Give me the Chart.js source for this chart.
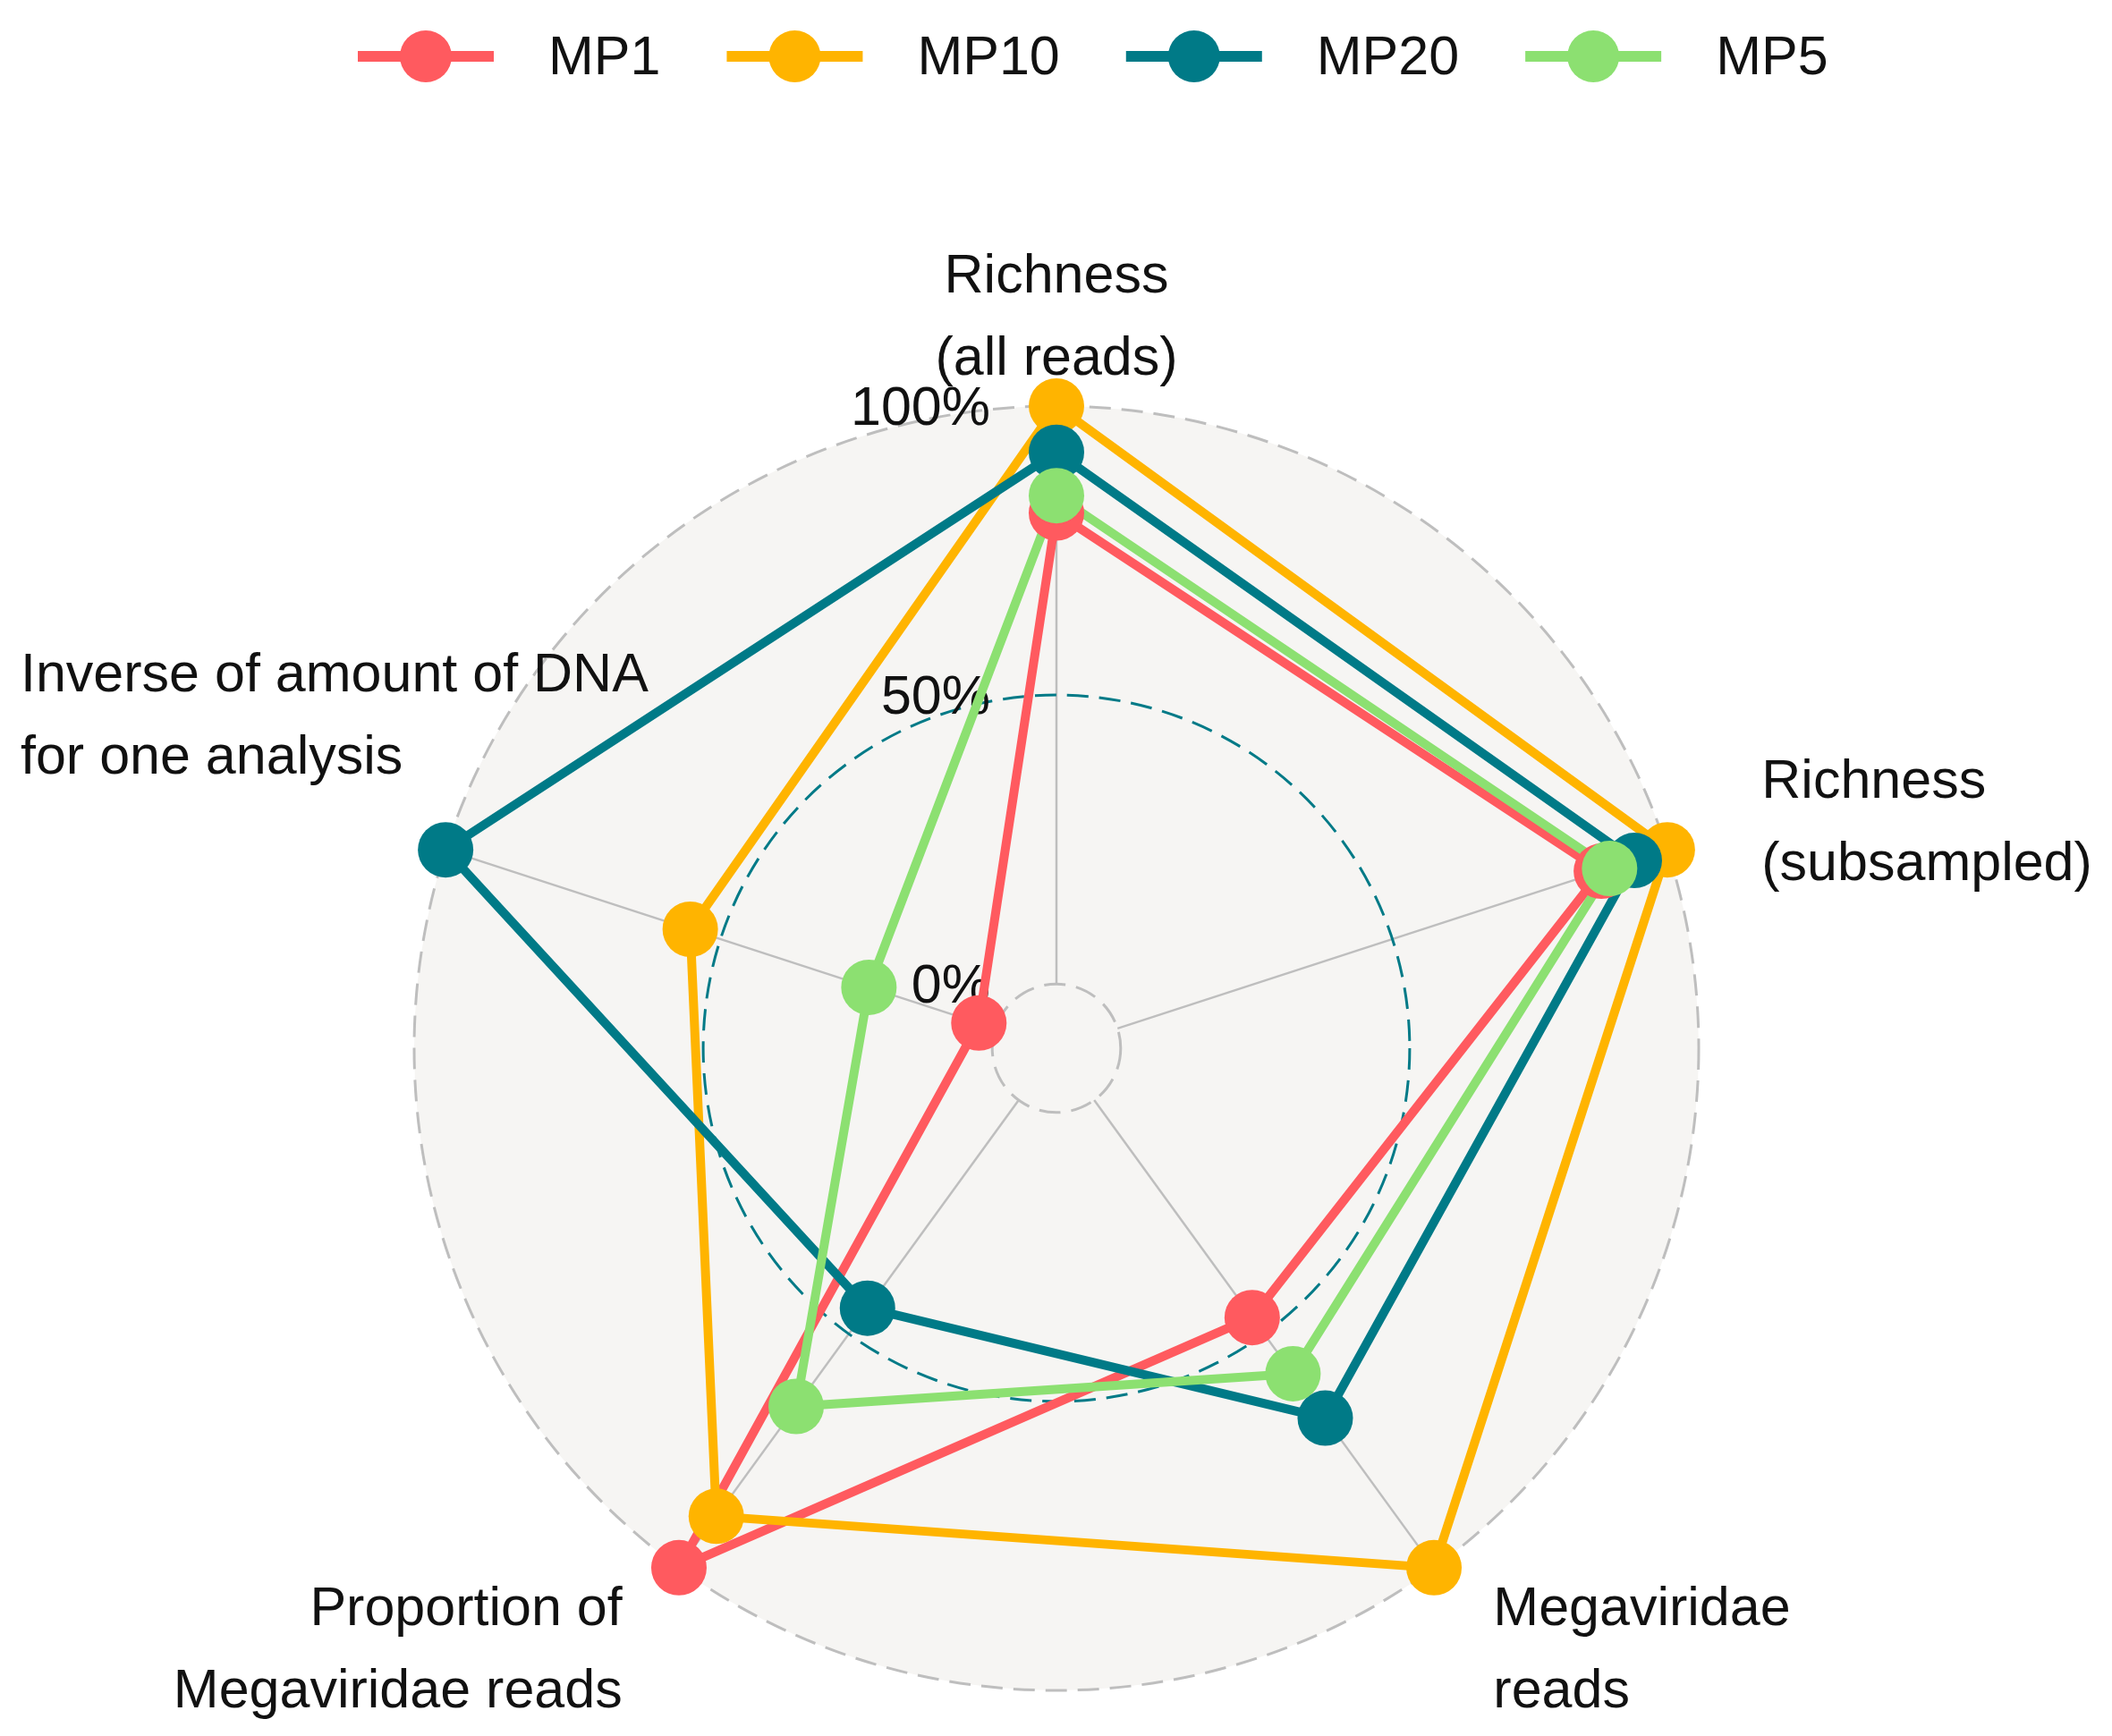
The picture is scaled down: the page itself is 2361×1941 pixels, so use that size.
<!DOCTYPE html>
<html>
<head>
<meta charset="utf-8">
<script src="https://cdn.jsdelivr.net/npm/chart.js@4/dist/chart.umd.min.js"></script>
<style>
  html, body { margin: 0; padding: 0; background: #ffffff; }
  #wrap { width: 2361px; height: 1941px; position: relative; }
  canvas { display: block; }
</style>
</head>
<body>
<div id="wrap"><canvas id="c" width="2361" height="1941"></canvas></div>
<script>
// ---- data ----
const categories = [
  ["Richness", "(all reads)"],
  ["Richness", "(subsampled)"],
  ["Megaviridae", "reads"],
  ["Proportion of", "Megaviridae reads"],
  ["Inverse of amount of DNA", "for one analysis"]
];
const seriesNames = ["MP1", "MP10", "MP20", "MP5"];
const mp1  = [81.5, 88,   46.5, 100,  3];
const mp10 = [100,  100,  100,  89,   55.5];
const mp20 = [92,   94,   68,   44.5, 100];
const mp5  = [84.5, 89.5, 58.5, 65.5, 23];
const tickValues = [0, 50, 100];
const tickLabels = ["0%", "50%", "100%"];

const seriesValues = [mp1, mp10, mp20, mp5];
const seriesColors = ["#FF5A5F", "#FFB400", "#007A87", "#8CE071"];
const FONT = '"Liberation Sans", Arial, sans-serif';
const FONT_SIZE = 61;

// ---- datasets: lines first (underneath), points on top ----
const datasets = [];
seriesNames.forEach((name, i) => {
  datasets.push({
    label: name,
    data: seriesValues[i],
    borderColor: seriesColors[i],
    backgroundColor: 'rgba(0,0,0,0)',
    borderWidth: 10,
    borderJoinStyle: 'round',
    pointRadius: 0,
    pointHoverRadius: 0,
    fill: false,
    order: 13 - i
  });
});
seriesNames.forEach((name, i) => {
  datasets.push({
    label: name,
    data: seriesValues[i],
    showLine: false,
    borderColor: 'rgba(0,0,0,0)',
    backgroundColor: 'rgba(0,0,0,0)',
    borderWidth: 0,
    pointRadius: 31,
    pointHoverRadius: 31,
    pointBackgroundColor: seriesColors[i],
    pointBorderWidth: 0,
    fill: false,
    order: 3 - i
  });
});

// ---- decoration plugin: background circle, grid, spokes, labels ----
const radarDecor = {
  id: 'radarDecor',
  beforeDatasetsDraw(chart) {
    const s = chart.scales.r;
    const ctx = chart.ctx;
    const cx = s.xCenter, cy = s.yCenter;
    const rMin = s.getDistanceFromCenterForValue(tickValues[0]);
    const rMid = s.getDistanceFromCenterForValue(tickValues[1]);
    const rMax = s.getDistanceFromCenterForValue(tickValues[2]);
    const n = categories.length;
    ctx.save();
    // background circle
    ctx.fillStyle = '#F6F5F3';
    ctx.beginPath();
    ctx.arc(cx, cy, rMax, 0, Math.PI * 2);
    ctx.fill();
    // spokes
    ctx.strokeStyle = '#BEBEBE';
    ctx.lineWidth = 2.5;
    ctx.setLineDash([]);
    for (let i = 0; i < n; i++) {
      const p0 = s.getPointPosition(i, rMin);
      const p1 = s.getPointPosition(i, rMax);
      ctx.beginPath();
      ctx.moveTo(p0.x, p0.y);
      ctx.lineTo(p1.x, p1.y);
      ctx.stroke();
    }
    // grid circles
    const circ = (r, col) => {
      ctx.strokeStyle = col;
      ctx.lineWidth = 3;
      ctx.setLineDash([24, 12]);
      ctx.beginPath();
      ctx.arc(cx, cy, r, 0, Math.PI * 2);
      ctx.stroke();
    };
    circ(rMin, '#BEBEBE');
    circ(rMid, '#007A87');
    circ(rMax, '#BEBEBE');
    ctx.setLineDash([]);

    // tick labels
    ctx.fillStyle = '#111111';
    ctx.font = FONT_SIZE + 'px ' + FONT;
    ctx.textAlign = 'right';
    ctx.textBaseline = 'middle';
    tickValues.forEach((v, k) => {
      const r = s.getDistanceFromCenterForValue(v);
      ctx.fillText(tickLabels[k], cx - 74, cy - r + 4);
    });

    // axis labels
    const rLab = s.getDistanceFromCenterForValue(116.67);
    const lineH = 92;
    for (let i = 0; i < n; i++) {
      const p = s.getPointPosition(i, rLab);
      let x = p.x, y = p.y, align;
      const dx = p.x - cx;
      if (Math.abs(dx) < 5) { align = 'center'; y += 6; }
      else if (dx > 0) { align = 'left'; x += 3; }
      else align = 'right';
      if (i === 4) { align = 'left'; x = 23; y = p.y - 119; }
      if (i >= 2 && i <= 3) { y += 2; }
      const lines = categories[i];
      ctx.textAlign = align;
      lines.forEach((t, j) => {
        ctx.fillText(t, x, y + (j - (lines.length - 1) / 2) * lineH + 4);
      });
    }
    ctx.restore();
  }
};

// ---- legend plugin ----
const legendPlugin = {
  id: 'customLegend',
  afterDraw(chart) {
    const ctx = chart.ctx;
    ctx.save();
    ctx.font = FONT_SIZE + 'px ' + FONT;
    ctx.textBaseline = 'middle';
    ctx.textAlign = 'left';
    const y = 63;
    let keyCenter = 476;
    seriesNames.forEach((name, i) => {
      const col = seriesColors[i];
      ctx.strokeStyle = col;
      ctx.lineWidth = 12;
      ctx.lineCap = 'butt';
      ctx.beginPath();
      ctx.moveTo(keyCenter - 76, y);
      ctx.lineTo(keyCenter + 76, y);
      ctx.stroke();
      ctx.fillStyle = col;
      ctx.beginPath();
      ctx.arc(keyCenter, y, 29, 0, Math.PI * 2);
      ctx.fill();
      ctx.fillStyle = '#111111';
      const tx = keyCenter + 137;
      ctx.fillText(name, tx, y + 3);
      const w = ctx.measureText(name).width;
      keyCenter = tx + w + 150;
    });
    ctx.restore();
  }
};

new Chart(document.getElementById('c').getContext('2d'), {
  type: 'radar',
  data: { labels: categories, datasets: datasets },
  options: {
    responsive: false,
    devicePixelRatio: 1,
    animation: false,
    layout: { padding: { left: 463, right: 462, top: 454, bottom: 51 } },
    plugins: { legend: { display: false }, tooltip: { enabled: false } },
    elements: { line: { tension: 0 } },
    scales: {
      r: {
        min: -11.11,
        max: 100,
        startAngle: 0,
        ticks: { display: false },
        grid: { display: false },
        angleLines: { display: false },
        pointLabels: { display: false }
      }
    }
  },
  plugins: [radarDecor, legendPlugin]
});
</script>
</body>
</html>
